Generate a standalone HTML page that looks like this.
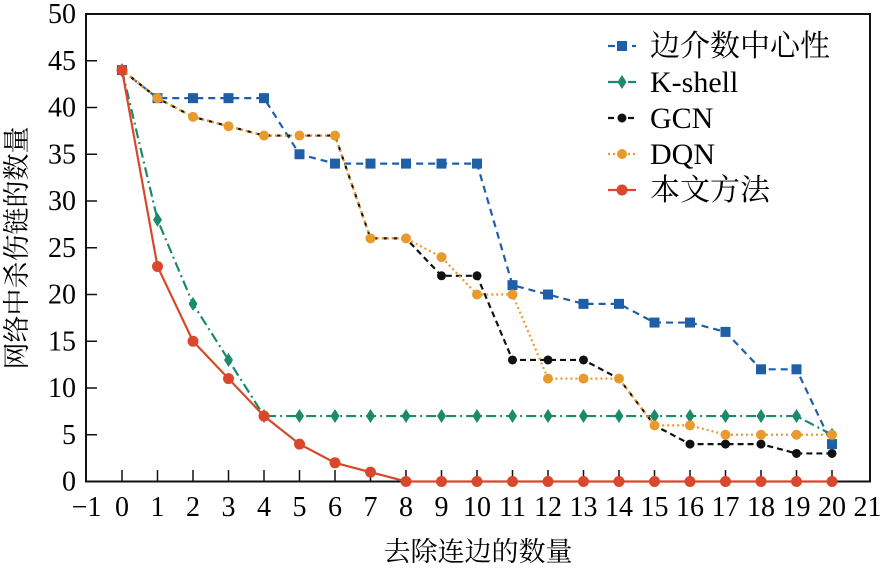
<!DOCTYPE html>
<html><head><meta charset="utf-8"><style>
html,body{margin:0;padding:0;background:#fff;}
svg text{font-family:"Liberation Serif","Times New Roman",Times,"DejaVu Serif","Noto Serif CJK SC",serif;}
</style></head><body>
<svg id="s" width="890" height="572" viewBox="0 0 890 572" xmlns="http://www.w3.org/2000/svg" style="display:block"></svg>
<script>
const s=document.getElementById('s');
const X=v=>122+(v)*35.5, Y=v=>481.5-v*9.35;
let h='';
h+=`<rect x="86" y="14" width="784" height="467.5" fill="none" stroke="#111" stroke-width="2"/>`;
for(let i=-1;i<=21;i++){const x=X(i);
 if(i>-1&&i<21)h+=`<line x1="${x}" y1="481" x2="${x}" y2="470" stroke="#111" stroke-width="1.5"/>`;
 h+=`<text x="${x}" y="516" font-size="28" text-anchor="middle">${i<0?'\u2212'+(-i):i}</text>`;}
for(let v=0;v<=50;v+=5){const y=Y(v);
 if(v>0&&v<50)h+=`<line x1="86" y1="${y}" x2="97" y2="${y}" stroke="#111" stroke-width="1.5"/>`;
 h+=`<text x="76" y="${y+9}" font-size="28" text-anchor="end">${v}</text>`;}
h+=`<text x="478" y="561" font-size="27" text-anchor="middle">去除连边的数量</text>`;
h+=`<text transform="translate(26,248) rotate(-90)" font-size="27" text-anchor="middle">网络中杀伤链的数量</text>`;
const S=[
 {c:'#1f5fa8',d:'7,5',m:'sq',v:[44,41,41,41,41,35,34,34,34,34,34,21,20,19,19,17,17,16,12,12,4]},
 {c:'#1a8a6a',d:'10,4,2,4',m:'di',v:[44,28,19,13,7,7,7,7,7,7,7,7,7,7,7,7,7,7,7,7,5]},
 {c:'#111',d:'6,4',m:'ci',v:[44,41,39,38,37,37,37,26,26,22,22,13,13,13,11,6,4,4,4,3,3]},
 {c:'#e89a2c',d:'2,3',m:'pe',v:[44,41,39,38,37,37,37,26,26,24,20,20,11,11,11,6,6,5,5,5,5]},
 {c:'#d9482b',d:'',m:'ci2',v:[44,23,15,11,7,4,2,1,0,0,0,0,0,0,0,0,0,0,0,0,0]}];
function mk(m,x,y,c){
 if(m=='sq')return `<rect x="${x-5}" y="${y-5}" width="10" height="10" fill="${c}"/>`;
 if(m=='di')return `<polygon points="${x},${y-7} ${x+4.5},${y} ${x},${y+7} ${x-4.5},${y}" fill="${c}"/>`;
 if(m=='ci')return `<circle cx="${x}" cy="${y}" r="4.5" fill="${c}"/>`;
 if(m=='pe')return `<circle cx="${x}" cy="${y}" r="5" fill="${c}"/>`;
 return `<circle cx="${x}" cy="${y}" r="5.5" fill="${c}"/>`;}
S.forEach(o=>{h+=`<polyline fill="none" stroke="${o.c}" stroke-width="2.2" ${o.d?`stroke-dasharray="${o.d}"`:''} points="${o.v.map((v,i)=>X(i)+','+Y(v)).join(' ')}"/>`;
 o.v.forEach((v,i)=>h+=mk(o.m,X(i),Y(v),o.c));});
const L=['边介数中心性','K-shell','GCN','DQN','本文方法'];
S.forEach((o,i)=>{const y=46+i*36;
 h+=`<line x1="608" y1="${y}" x2="636" y2="${y}" stroke="${o.c}" stroke-width="2.2" ${o.d?`stroke-dasharray="${o.d}"`:''}/>`;
 h+=mk(o.m,622,y,o.c);
 h+=`<text x="650" y="${y+10}" font-size="30">${L[i]}</text>`;});
s.innerHTML=h;
</script>
</body></html>
